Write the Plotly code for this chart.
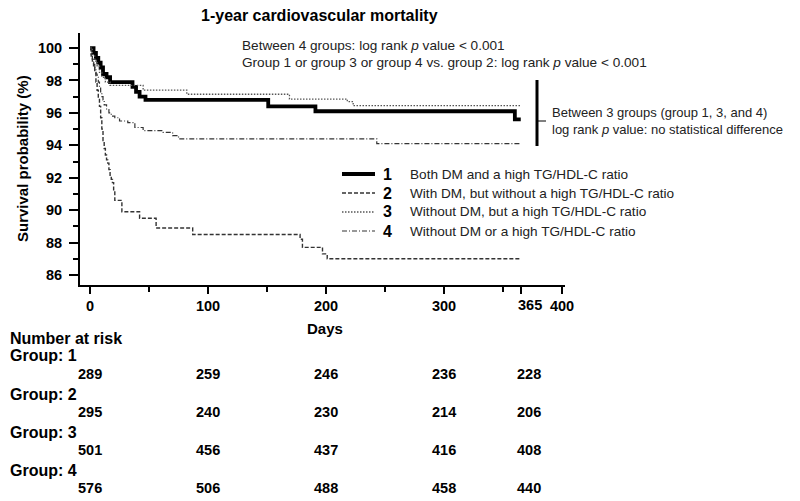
import plotly.graph_objects as go

# Kaplan-Meier step data (days, survival %)
days_g1 = [0, 3, 5, 7, 9, 11, 14, 17, 36, 39, 42, 47, 151, 191, 360, 365]
surv_g1 = [100, 99.7, 99.4, 99.1, 98.8, 98.4, 98.2, 97.9, 97.6, 97.3, 97.0, 96.8, 96.4, 96.1, 95.6, 95.6]

days_g2 = [0, 1, 2, 3, 4, 5, 6, 7, 8, 9, 10, 11, 12, 13, 14, 15, 16, 17, 18, 19, 20, 21,
           27, 42, 56, 87, 178, 180, 197, 201, 365]
surv_g2 = [100, 99.5, 99.1, 98.8, 98.5, 97.9, 97.4, 96.9, 96.4, 95.7, 95.0, 94.3, 93.8, 93.4,
           93.1, 92.9, 92.5, 92.1, 91.9, 91.7, 91.2, 90.6, 89.9, 89.5, 88.9, 88.5, 88.2, 87.7,
           87.3, 87.0, 87.0]

days_g3 = [0, 2, 4, 6, 8, 10, 13, 17, 45, 82, 169, 218, 223, 365]
surv_g3 = [100, 99.6, 99.2, 98.9, 98.5, 98.2, 97.9, 97.7, 97.4, 97.15, 96.85, 96.7, 96.45, 96.45]

days_g4 = [0, 1, 2, 3, 4, 5, 6, 7, 8, 9, 10, 11, 12, 14, 16, 18, 21, 25, 32, 38, 45, 62,
           70, 75, 243, 365]
surv_g4 = [100, 99.6, 99.3, 99.0, 98.7, 98.4, 98.2, 97.9, 97.6, 97.3, 97.0, 96.8, 96.5, 96.2,
           96.0, 95.8, 95.7, 95.5, 95.4, 95.1, 94.9, 94.8, 94.6, 94.4, 94.1, 94.1]

group_labels = [
    "Both DM and a high TG/HDL-C ratio",
    "With DM, but without a high TG/HDL-C ratio",
    "Without DM, but a high TG/HDL-C ratio",
    "Without DM or a high TG/HDL-C ratio",
]

x_ticks = [0, 100, 200, 300, 365, 400]
y_ticks = [86, 88, 90, 92, 94, 96, 98, 100]

risk_days = [0, 100, 200, 300, 365]
risk_g1 = [289, 259, 246, 236, 228]
risk_g2 = [295, 240, 230, 214, 206]
risk_g3 = [501, 456, 437, 416, 408]
risk_g4 = [576, 506, 488, 458, 440]

FONT = "Arial, Liberation Sans, sans-serif"
TXT = 13.6

# page body has an 8px margin, so shrink the figure and shift everything
OFF = 8
W, H = 800 - OFF, 501 - OFF
# plot area in reference pixels: x 80..565, y 33..285
RL, RR, RT, RB = 80, 565, 33, 285


def px(x):
    return (x - RL) / (RR - RL)


def py(y):
    return (RB - y) / (RB - RT)


def note(x, y, text, size=TXT, anchor="left", xref="paper", **kw):
    return dict(xref=xref, yref="paper", x=x, y=y, text=text, showarrow=False,
                xanchor=anchor, yanchor="middle",
                font=dict(size=size, family=FONT, color=kw.pop("color", "#222")), **kw)


styles = [
    dict(color="black", width=3.8, dash="solid"),
    dict(color="#333333", width=1.4, dash="4px,2px"),
    dict(color="#555555", width=1.3, dash="1.5px,1.5px"),
    dict(color="#333333", width=1.2, dash="5px,2px,1px,2px"),
]

fig = go.Figure()
for d, s, st in zip([days_g1, days_g2, days_g3, days_g4],
                    [surv_g1, surv_g2, surv_g3, surv_g4], styles):
    fig.add_trace(go.Scatter(x=d, y=s, mode="lines", line_shape="hv", line=st,
                             showlegend=False, hoverinfo="skip"))

annotations = []
shapes = []

# legend (drawn by hand to match the layout of the figure)
leg_y = [174, 193, 212, 231]
for i, (st, lab) in enumerate(zip(styles, group_labels)):
    shapes.append(dict(type="line", xref="paper", yref="paper",
                       x0=px(342), x1=px(375), y0=py(leg_y[i]), y1=py(leg_y[i]),
                       line=dict(color=st["color"], width=st["width"], dash=st["dash"])))
    annotations.append(note(px(387), py(leg_y[i]), f"<b>{i + 1}</b>", size=16,
                            anchor="center", color="black"))
    annotations.append(note(px(408), py(leg_y[i]), lab))

# log-rank notes
annotations.append(note(px(240), py(45), "Between 4 groups: log rank <i>p</i> value < 0.001"))
annotations.append(note(px(240), py(62),
                        "Group 1 or group 3 or group 4 vs. group 2: log rank <i>p</i> value < 0.001"))
shapes.append(dict(type="line", xref="paper", yref="paper", x0=px(537), x1=px(537),
                   y0=py(80), y1=py(146), line=dict(color="black", width=3)))
shapes.append(dict(type="line", xref="paper", yref="paper", x0=px(538), x1=px(546),
                   y0=py(121), y1=py(121), line=dict(color="black", width=1)))
annotations.append(note(px(550), py(112), "Between 3 groups (group 1, 3, and 4)", size=13))
annotations.append(note(px(550), py(130), "log rank <i>p</i> value: no statistical difference",
                        size=13))

# titles
annotations.append(note(px(199), py(15), "<b>1-year cardiovascular mortality</b>", size=16,
                        color="black"))
annotations.append(note(px(22), 0.5, "<b>Survival probability (%)</b>", size=15,
                        anchor="center", color="black", textangle=-90))
annotations.append(note(px(325), py(328), "<b>Days</b>", size=15, anchor="center",
                        color="black"))
# 365 tick label sits a little right of its tick in the original
annotations.append(note(365, py(305), "<b>365</b>", size=14.5, anchor="center", xref="x",
                        color="black", xshift=9))

# number at risk table
annotations.append(note(px(OFF), py(338), "<b>Number at risk</b>", size=16, color="black"))
row_label_y = [355, 394, 432, 470]
row_num_y = [374, 412, 450, 488]
for g, (counts, ly, ny) in enumerate(zip([risk_g1, risk_g2, risk_g3, risk_g4],
                                         row_label_y, row_num_y)):
    annotations.append(note(px(OFF), py(ly), f"<b>Group: {g + 1}</b>", size=16, color="black"))
    for d, c in zip(risk_days, counts):
        annotations.append(note(d, py(ny), f"<b>{c}</b>", size=14.5, anchor="center",
                                xref="x", color="black", xshift=8 if d == 365 else 0))

fig.update_layout(
    width=W, height=H,
    margin=dict(l=RL - OFF, r=W - (RR - OFF), t=RT - OFF, b=H - (RB - OFF)),
    plot_bgcolor="white", paper_bgcolor="white",
    annotations=annotations, shapes=shapes,
    xaxis=dict(range=[-8.5, 402.5], showline=True, linecolor="black", linewidth=2,
               showgrid=False, zeroline=False, ticks="outside", ticklen=7, tickwidth=2,
               tickcolor="black", tickvals=x_ticks,
               ticktext=["" if v == 365 else f"<b>{v}</b>" for v in x_ticks],
               tickfont=dict(size=14.5, family=FONT, color="black"),
               minor=dict(tickvals=[50, 150, 250, 350], ticks="outside", ticklen=5,
                          tickwidth=1.5, tickcolor="black")),
    yaxis=dict(range=[85.38, 100.93], showline=True, linecolor="black", linewidth=2,
               showgrid=False, zeroline=False, ticks="outside", ticklen=9, tickwidth=2,
               tickcolor="black", tickvals=y_ticks, ticklabelstandoff=4,
               ticktext=[f"<b>{v}</b>" for v in y_ticks],
               tickfont=dict(size=14.5, family=FONT, color="black"),
               minor=dict(tickvals=[87, 89, 91, 93, 95, 97, 99], ticks="outside",
                          ticklen=5, tickwidth=1.5, tickcolor="black")),
)

fig.write_html("out.html")
